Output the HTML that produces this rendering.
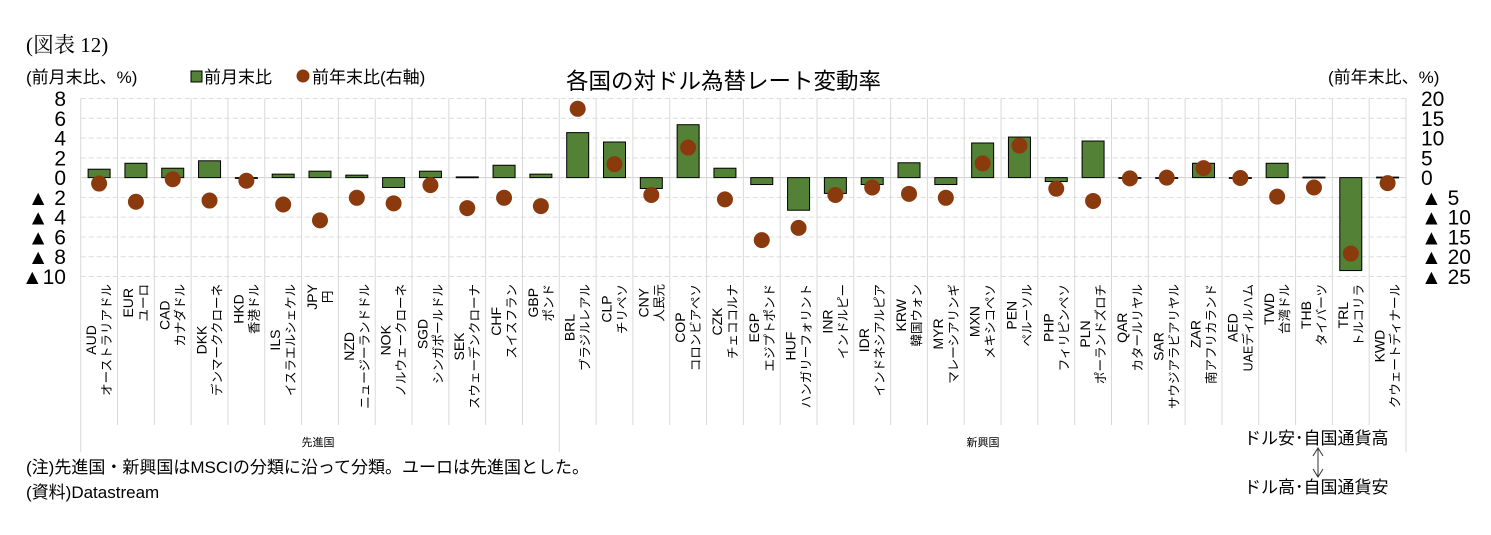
<!DOCTYPE html>
<html><head><meta charset="utf-8">
<style>
body{margin:0;background:#fff;}
svg{display:block;font-family:"Liberation Sans","Noto Sans CJK JP",sans-serif;}
</style></head>
<body>
<svg id="chart" width="1491" height="535" viewBox="0 0 1491 535" xmlns="http://www.w3.org/2000/svg">
<text x="26" y="52" font-size="21" font-family="'Liberation Serif','Noto Serif CJK SC',serif">(図表 12)</text>
<text x="26" y="83" font-size="17">(前月末比、%)</text>
<g>
<rect x="191" y="71" width="11" height="11" fill="#538135" stroke="#000" stroke-width="1"/>
<text x="204" y="83" font-size="17">前月末比</text>
<circle cx="303" cy="76" r="6.5" fill="#8b3a0e"/>
<text x="312" y="83" font-size="17">前年末比(右軸)</text>
</g>
<text x="566" y="89" font-size="22.5">各国の対ドル為替レート変動率</text>
<text x="1328" y="83" font-size="17">(前年末比、%)</text>
<g id="grid"></g><g id="marks"></g><g id="axes"></g><g id="cats"></g>
<text x="318" y="446" font-size="11" text-anchor="middle">先進国</text>
<text x="983" y="446" font-size="11" text-anchor="middle">新興国</text>
<text x="26" y="473" font-size="17">(注)先進国・新興国はMSCIの分類に沿って分類。ユーロは先進国とした。</text>
<text x="26" y="498" font-size="17">(資料)Datastream</text>
<text x="1244" y="444" font-size="17">ドル安･自国通貨高</text>
<text x="1244" y="493" font-size="17">ドル高･自国通貨安</text>
<g stroke="#333" stroke-width="1" fill="none">
<line x1="1318" y1="448" x2="1318" y2="477"/>
<polyline points="1313,456 1318,448 1323,456"/>
<polyline points="1313,469 1318,477 1323,469"/>
</g>
</svg>
<script>
const codes=["AUD","EUR","CAD","DKK","HKD","ILS","JPY","NZD","NOK","SGD","SEK","CHF","GBP","BRL","CLP","CNY","COP","CZK","EGP","HUF","INR","IDR","KRW","MYR","MXN","PEN","PHP","PLN","QAR","SAR","ZAR","AED","TWD","THB","TRL","KWD"];
const names=["オーストラリアドル","ユーロ","カナダドル","デンマーククローネ","香港ドル","イスラエルシェケル","円","ニュージーランドドル","ノルウェークローネ","シンガポールドル","スウェーデンクローナ","スイスフラン","ポンド","ブラジルレアル","チリペソ","人民元","コロンビアペソ","チェココルナ","エジプトポンド","ハンガリーフォリント","インドルピー","インドネシアルピア","韓国ウォン","マレーシアリンギ","メキシコペソ","ペルーソル","フィリピンペソ","ポーランドズロチ","カタールリヤル","サウジアラビアリヤル","南アフリカランド","UAEディルハム","台湾ドル","タイバーツ","トルコリラ","クウェートディナール"];
const momValues=[0.85,1.45,0.95,1.7,0,0.35,0.65,0.25,-1.0,0.65,0.07,1.25,0.35,4.55,3.6,-1.1,5.35,0.95,-0.7,-3.3,-1.6,-0.7,1.5,-0.7,3.5,4.1,-0.4,3.7,0,0,1.45,0,1.45,0.05,-9.4,0.05];
const ytdValues=[-1.5,-6.1,-0.4,-5.8,-0.8,-6.8,-10.8,-5.1,-6.5,-1.9,-7.7,-5.1,-7.2,17.4,3.4,-4.4,7.6,-5.5,-15.8,-12.7,-4.4,-2.5,-4.1,-5.1,3.6,8.1,-2.8,-5.9,-0.2,0,2.4,-0.1,-4.8,-2.5,-19.2,-1.4];
const leftTicks=[8,6,4,2,0,-2,-4,-6,-8,-10];
const leftTickLabels=["8","6","4","2","0","▲ 2","▲ 4","▲ 6","▲ 8","▲10"];
const rightTicks=[20,15,10,5,0,-5,-10,-15,-20,-25];
const rightTickLabels=["20","15","10","5","0","▲ 5","▲ 10","▲ 15","▲ 20","▲ 25"];
const developedCount=13;

const NS="http://www.w3.org/2000/svg";
const X0=80.7,X1=1406,Y0=98.5,Y1=276.5;
const LMIN=-10,LMAX=8,RMIN=-25,RMAX=20;
const bw=(X1-X0)/codes.length;
const yL=v=>Y1-(v-LMIN)/(LMAX-LMIN)*(Y1-Y0);
const yR=v=>Y1-(v-RMIN)/(RMAX-RMIN)*(Y1-Y0);
const xC=i=>X0+bw*(i+0.5);
function mk(tag,attrs,parent){const e=document.createElementNS(NS,tag);for(const k in attrs)e.setAttribute(k,attrs[k]);parent.appendChild(e);return e;}
const grid=document.getElementById('grid'),marks=document.getElementById('marks'),axes=document.getElementById('axes'),cats=document.getElementById('cats');
leftTicks.forEach((t,i)=>{
  const y=yL(t);
  const l=mk('line',{x1:X0,x2:X1,y1:y,y2:y,stroke:t===0?'#d0d0d0':'#dcdcdc','stroke-width':1,'stroke-dasharray':t===0?'':'5,3'},grid);
  
  
  const tx=mk('text',{x:66,y:y+7.5,'font-size':21,'text-anchor':'end'},axes);
  tx.textContent=leftTickLabels[i];
  
  
});
rightTicks.forEach((t,i)=>{
  const y=yR(t);
  const tx=mk('text',{x:1421,y:y+7.5,'font-size':21},axes);
  tx.textContent=rightTickLabels[i];
  
  
});
for(let i=0;i<=codes.length;i++){
  const x=X0+bw*i;
  const long=(i===0||i===developedCount||i===codes.length);
  const l=mk('line',{x1:x,x2:x,y1:Y0,y2:long?452:425,stroke:'#d9d9d9','stroke-width':1},grid);
  
  
}
codes.forEach((c,i)=>{
  const cx=xC(i);
  const v=momValues[i];
  const ya=yL(v),yz=yL(0);
  const r=mk('rect',{x:cx-11,y:Math.min(ya,yz),width:22,height:Math.max(Math.abs(yz-ya),0.8),fill:'#538135',stroke:'#000','stroke-width':1},marks);
  
  
});
codes.forEach((c,i)=>{
  const d=mk('circle',{cx:xC(i),cy:yR(ytdValues[i]),r:8,fill:'#8b3a0e'},marks);
  
  
});
codes.forEach((c,i)=>{
  const cx=xC(i);
  const t1=mk('text',{x:0,y:0,'font-size':14,'text-anchor':'middle'},cats);
  t1.textContent=c;
  
  
  const t2=mk('text',{x:0,y:0,'font-size':12.5,'text-anchor':'middle'},cats);
  t2.textContent=names[i];
  
  
  const L=Math.max(t1.getComputedTextLength(),t2.getComputedTextLength());
  const mid=284+L/2;
  t1.setAttribute('transform',`translate(${cx-3},${mid}) rotate(-90)`);
  t2.setAttribute('transform',`translate(${cx+12},${mid}) rotate(-90)`);
});
</script>
</body></html>
